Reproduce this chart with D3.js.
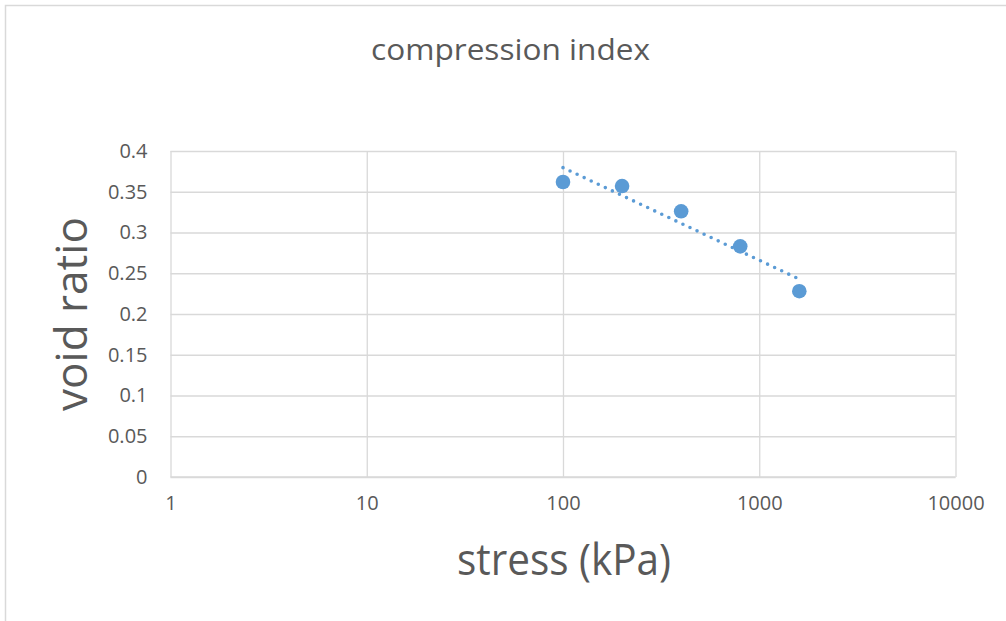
<!DOCTYPE html>
<html>
<head>
<meta charset="utf-8">
<script src="https://cdn.jsdelivr.net/npm/d3@7"></script>
<style>
  html, body { margin: 0; padding: 0; background: #ffffff; }
  svg { display: block; }
  text { font-family: "Open Sans", "Noto Sans", sans-serif; fill: #595959; }
</style>
</head>
<body>
<script>
// Oedometer results: void ratio at each load step
const stress = [100, 200, 400, 800, 1600];           // kPa
const voidRatio = [0.362, 0.357, 0.326, 0.283, 0.228];

const xTicks = [1, 10, 100, 1000, 10000];
const yTicks = [0, 0.05, 0.1, 0.15, 0.2, 0.25, 0.3, 0.35, 0.4];

const chartTitle = "compression index";
const xTitle = "stress (kPa)";
const yTitle = "void ratio";

const W = 1006, H = 621;
const plot = { left: 170.5, right: 955.5, top: 151, bottom: 477 };

const svg = d3.select("body").append("svg")
  .attr("width", W).attr("height", H);

// chart frame
svg.append("rect")
  .attr("x", 5.5).attr("y", 5.5)
  .attr("width", W + 10).attr("height", H + 10)
  .attr("fill", "#ffffff")
  .attr("stroke", "#d9d9d9").attr("stroke-width", 1.5);

const x = d3.scaleLog().domain([1, 10000]).range([plot.left, plot.right]);
const y = d3.scaleLinear().domain([0, 0.4]).range([plot.bottom, plot.top]);

// horizontal gridlines + y labels
const yAxis = d3.axisLeft(y).tickValues(yTicks)
  .tickSize(-(plot.right - plot.left)).tickPadding(23)
  .tickFormat(d => d3.format("~g")(+d.toFixed(2)));
const gy = svg.append("g").attr("transform", `translate(${plot.left},0)`).call(yAxis);
gy.select(".domain").remove();
gy.selectAll(".tick line").attr("stroke", "#d9d9d9").attr("stroke-width", 1.3);
gy.selectAll(".tick text").style("font-size", "20px").attr("fill", "#595959");

// vertical gridlines + x labels
const xAxis = d3.axisBottom(x).tickValues(xTicks)
  .tickSize(-(plot.bottom - plot.top)).tickPadding(19)
  .tickFormat(d3.format("d"));
const gx = svg.append("g").attr("transform", `translate(0,${plot.bottom})`).call(xAxis);
gx.select(".domain").remove();
gx.selectAll(".tick line").attr("stroke", "#d9d9d9").attr("stroke-width", 1.3);
gx.selectAll(".tick text").style("font-size", "20px").attr("fill", "#595959");

// axis lines around the plot area
svg.append("line")
  .attr("x1", plot.left).attr("x2", plot.right)
  .attr("y1", y(0)).attr("y2", y(0))
  .attr("stroke", "#d9d9d9").attr("stroke-width", 1.5);

// logarithmic trendline: e = a + b * log10(stress)
const lx = stress.map(v => Math.log10(v));
const mx = d3.mean(lx), my = d3.mean(voidRatio);
const b = d3.sum(lx, (v, i) => (v - mx) * (voidRatio[i] - my)) / d3.sum(lx, v => (v - mx) * (v - mx));
const a = my - b * mx;
const trendX = d3.extent(stress);
const trend = trendX.map(v => [v, a + b * Math.log10(v)]);

svg.append("path")
  .datum(trend)
  .attr("d", d3.line().x(d => x(d[0])).y(d => y(d[1])))
  .attr("fill", "none")
  .attr("stroke", "#5b9bd5")
  .attr("stroke-width", 3.6)
  .attr("stroke-linecap", "round")
  .attr("stroke-dasharray", "0 7.8");

// data points
svg.append("g").selectAll("circle")
  .data(stress.map((s, i) => [s, voidRatio[i]]))
  .join("circle")
  .attr("cx", d => x(d[0]))
  .attr("cy", d => y(d[1]))
  .attr("r", 7.3)
  .attr("fill", "#5b9bd5");

// titles
svg.append("text")
  .attr("x", 510.5).attr("y", 60)
  .attr("text-anchor", "middle")
  .attr("textLength", 279).attr("lengthAdjust", "spacingAndGlyphs")
  .style("font-size", "30px")
  .text(chartTitle);

svg.append("text")
  .attr("x", 564).attr("y", 575)
  .attr("text-anchor", "middle")
  .attr("textLength", 214).attr("lengthAdjust", "spacingAndGlyphs")
  .style("font-size", "44px")
  .text(xTitle);

svg.append("text")
  .attr("transform", `translate(87,${(plot.top + plot.bottom) / 2}) rotate(-90)`)
  .attr("text-anchor", "middle")
  .attr("textLength", 194).attr("lengthAdjust", "spacingAndGlyphs")
  .style("font-size", "44px")
  .text(yTitle);
</script>
</body>
</html>
